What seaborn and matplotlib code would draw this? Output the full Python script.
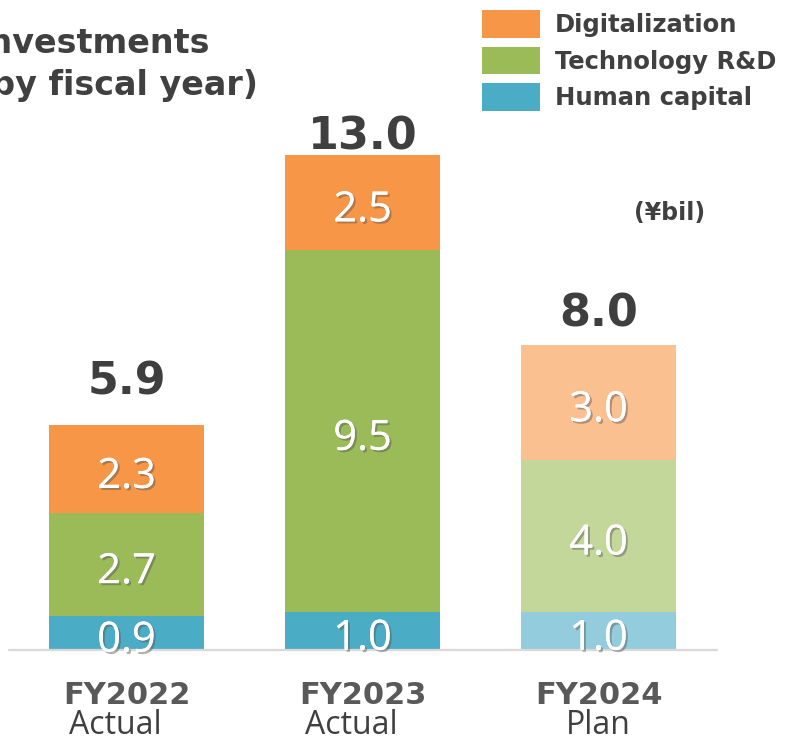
import numpy as np
import matplotlib
matplotlib.use('Agg')
import matplotlib.pyplot as plt
import matplotlib.patheffects as pe
from matplotlib.patches import Patch
import seaborn as sns

# data (¥bil)
years = ['FY2022', 'FY2023', 'FY2024']
kinds = ['Actual', 'Actual', 'Plan']
human = np.array([0.9, 1.0, 1.0])
tech = np.array([2.7, 9.5, 4.0])
digital = np.array([2.3, 2.5, 3.0])
totals = [5.9, 13.0, 8.0]
series = ['Digitalization', 'Technology R&D', 'Human capital']

# colours: actual vs plan (lighter)
col_digital = ['#F79646', '#F79646', '#FAC090']
col_tech = ['#9BBB59', '#9BBB59', '#C4D79B']
col_human = ['#4BACC6', '#4BACC6', '#93CDDD']
total_pad_px = [22, -4, 10]
kind_shift_px = [-11, -11, 0]

sns.set_style('white')
plt.rcParams['font.family'] = ['DejaVu Sans']

fig = plt.figure(figsize=(7.9, 7.41), dpi=100)
ax = fig.add_axes([0, 91 / 741, 1, 650 / 741])

# stacked bars drawn as cumulative heights, tallest first
cum_top = human + tech + digital
cum_mid = human + tech
layers = [(cum_top, col_digital), (cum_mid, col_tech), (human, col_human)]
for heights, cols in layers:
    sns.barplot(x=years, y=heights, hue=years, palette=dict(zip(years, cols)),
                width=0.657, saturation=1, legend=False, ax=ax, linewidth=0)

ax.set_xlim(-126.5 / 236, (790 - 126.5) / 236)
ax.set_ylim(0, 650 / 38.08)
for s in ax.spines.values():
    s.set_visible(False)
ax.set_yticks([])
ax.set_ylabel('')
ax.set_xlabel('')
ax.axhline(0, xmin=9 / 790, xmax=717 / 790, color='#D9D9D9', lw=1.6, clip_on=False)

# segment labels
shadow = [pe.withSimplePatchShadow(offset=(1.5, -1.5), shadow_rgbFace='#555555', alpha=0.45),
          pe.Normal()]
bottoms = [np.zeros(3), human, human + tech]
for vals, bots in zip([human, tech, digital], bottoms):
    for i, (v, b) in enumerate(zip(vals, bots)):
        ax.annotate(f'{v:.1f}', (i, b + v / 2), xytext=(0, -2), textcoords='offset points',
                    ha='center', va='center_baseline', fontsize=30, color='white',
                    family='Open Sans', path_effects=shadow)

# totals
for i, t in enumerate(totals):
    ax.annotate(f'{t:.1f}', (i, cum_top[i]), xytext=(0, total_pad_px[i] * 0.72),
                textcoords='offset points', ha='center', va='bottom',
                fontsize=32, fontweight='bold', color='#3F3F3F')

# x labels
ax.set_xticks(range(len(years)))
ax.set_xticklabels(years, fontsize=22, fontweight='bold', color='#595959')
ax.tick_params(axis='x', length=0, pad=22)
for i, k in enumerate(kinds):
    ax.annotate(k, (i, 0), xytext=(kind_shift_px[i] * 0.72, -59 * 0.72),
                textcoords='offset points', ha='center', va='top', fontsize=23,
                family='Open Sans', color='#404040', annotation_clip=False)

# title (cut off at left edge, as in the source)
fig.text(210 / 790, 1 - 53 / 741, 'Investments', ha='right', va='baseline',
         fontsize=24, fontweight='bold', color='#404040')
fig.text(258 / 790, 1 - 95 / 741, '(by fiscal year)', ha='right', va='baseline',
         fontsize=24, fontweight='bold', color='#404040')

fig.text(670 / 790, 1 - 213 / 741, '(¥bil)', ha='center', va='center',
         fontsize=17, fontweight='bold', color='#404040')

handles = [Patch(facecolor=c, edgecolor='none') for c in [col_digital[0], col_tech[0], col_human[0]]]
fig.legend(handles, series, loc='upper left', bbox_to_anchor=(482 / 790, 1 - 10 / 741),
           frameon=False, prop={'weight': 'bold', 'size': 17.5},
           handlelength=2.39, handleheight=1.395, handletextpad=0.62,
           labelspacing=0.35, borderpad=0, borderaxespad=0, labelcolor='#404040')

fig.savefig('out.png', dpi=100)
